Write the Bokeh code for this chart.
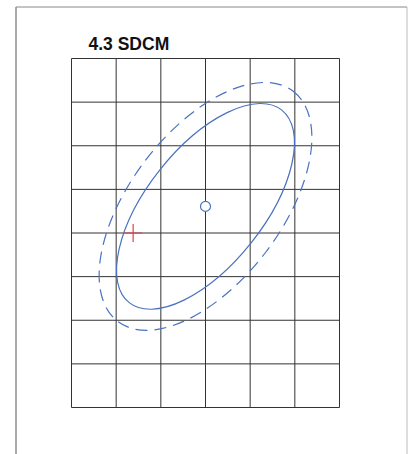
import math
from bokeh.plotting import figure
from bokeh.models import Range1d
from bokeh.core.properties import value
from bokeh.embed import file_html
from bokeh.resources import INLINE

# Grid (chromaticity step units)
x_ticks = [0, 1, 2, 3, 4, 5, 6]
y_ticks = [0, 1, 2, 3, 4, 5, 6, 7, 8]

# Centre of the tolerance ellipses
center_x = [3.0]
center_y = [4.61]

# Inner (solid) ellipse
inner_width = [5.50]
inner_height = [2.68]
inner_angle_deg = [51.6]

# Outer (dashed) ellipse
outer_width = [6.48]
outer_height = [3.47]
outer_angle_deg = [52.7]

# Measured point (red cross)
point_x = [1.38]
point_y = [4.0]

title_text = ["4.3 SDCM"]

BLUE = "#4a72c0"
GRID = "#333333"

# layout: pixel geometry of the grid inside the page (the page renders with no body margin)
PX_X = 44.667   # px per x unit
PX_Y = 43.625   # px per y unit
grid_left, grid_top, grid_bottom = 71, 58, 407   # page px
fig_left, fig_top, fig_w, fig_h = 0, 0, 408, 454
fig_right, fig_bottom = fig_left + fig_w, fig_top + fig_h

x0 = (fig_left - grid_left) / PX_X
x1 = (fig_right - grid_left) / PX_X
y0 = -(fig_bottom - grid_bottom) / PX_Y
y1 = y_ticks[-1] + (grid_top - fig_top) / PX_Y

p = figure(width=fig_w, height=fig_h, output_backend="svg", toolbar_location=None,
           x_range=Range1d(x0, x1), y_range=Range1d(y0, y1),
           min_border=0)
p.xaxis.visible = False
p.yaxis.visible = False
p.xgrid.visible = False
p.ygrid.visible = False
p.outline_line_color = None
p.background_fill_color = "white"
p.border_fill_color = "white"

# outer page frame (left, top, right sides)
bx_l = (15.5 - grid_left) / PX_X
bx_r = (406.5 - grid_left) / PX_X
by_t = y_ticks[-1] + (grid_top - 6.5) / PX_Y
p.line(x=[bx_l, bx_l], y=[y0, by_t], line_color="#555555", line_width=1)
p.line(x=[bx_l, bx_r], y=[by_t, by_t], line_color="#888888", line_width=1)
p.line(x=[bx_r, bx_r], y=[by_t, y0], line_color="#bbbbbb", line_width=1)

# grid
nx, ny = len(x_ticks), len(y_ticks)
p.segment(x0=x_ticks, y0=[y_ticks[0]] * nx, x1=x_ticks, y1=[y_ticks[-1]] * nx,
          line_color=GRID, line_width=1)
p.segment(x0=[x_ticks[0]] * ny, y0=y_ticks, x1=[x_ticks[-1]] * ny, y1=y_ticks,
          line_color=GRID, line_width=1)

# title
p.text(x=[(88 - grid_left) / PX_X], y=[y_ticks[-1] + (grid_top - 43.5) / PX_Y], text=title_text,
       text_font=value("Liberation Sans"), text_font_style="bold", text_font_size="17.5px",
       text_color="#111111", text_baseline="alphabetic", text_align="left")

p.ellipse(x=center_x, y=center_y, width=outer_width, height=outer_height,
          angle=[math.radians(a) for a in outer_angle_deg],
          fill_alpha=0, line_color=BLUE, line_width=1.2, line_dash="12 7")
p.ellipse(x=center_x, y=center_y, width=inner_width, height=inner_height,
          angle=[math.radians(a) for a in inner_angle_deg],
          fill_alpha=0, line_color=BLUE, line_width=1.2)
p.scatter(x=center_x, y=center_y, marker="circle", size=10, fill_color="white",
          line_color=BLUE, line_width=1.2)
p.scatter(x=point_x, y=point_y, marker="cross", size=18, line_color="#e0404a", line_width=1.2)

open("out.html", "w").write(file_html(p, INLINE))
